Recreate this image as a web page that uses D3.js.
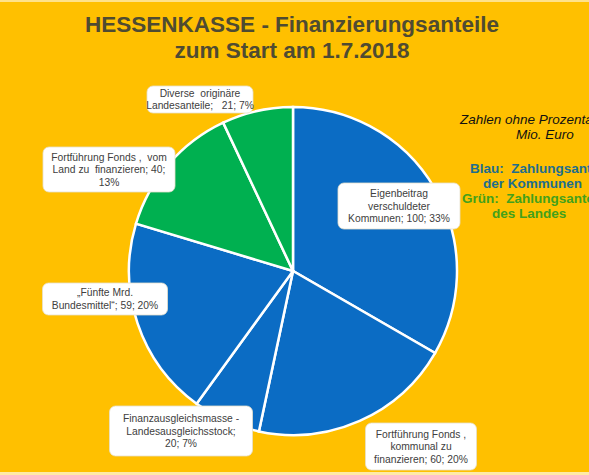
<!DOCTYPE html>
<html>
<head>
<meta charset="utf-8">
<script src="https://cdn.jsdelivr.net/npm/d3@7"></script>
<style>
  body { margin: 0; background: #ffc000; }
  svg { display: block; font-family: "Liberation Sans", Arial, sans-serif; }
  svg text { white-space: pre; }
</style>
</head>
<body>
<script>
// data: Mio. Euro, clockwise from 12 o'clock
var categories = ["Eigenbeitrag verschuldeter Kommunen", "Fortführung Fonds, kommunal zu finanzieren",
                  "Finanzausgleichsmasse - Landesausgleichsstock", "„Fünfte Mrd. Bundesmittel“",
                  "Fortführung Fonds, vom Land zu finanzieren", "Diverse originäre Landesanteile"];
var values = [100, 60, 20, 59, 40, 21];
var payer = ["Kommunen", "Kommunen", "Kommunen", "Kommunen", "Land", "Land"];
// label text as wrapped in the picture, {v} = value, {p} = percent
var labelLines = [
  ["Eigenbeitrag", "verschuldeter", "Kommunen; {v}; {p}%"],
  ["Fortführung Fonds ,", "kommunal zu", "finanzieren; {v}; {p}%"],
  ["Finanzausgleichsmasse -", "Landesausgleichsstock;", "{v}; {p}%"],
  ["„Fünfte Mrd.", "Bundesmittel“; {v}; {p}%"],
  ["Fortführung Fonds ,  vom", "Land zu  finanzieren; {v};", "{p}%"],
  ["Diverse  originäre", "Landesanteile;   {v}; {p}%"]
];
var titleLines = ["HESSENKASSE - Finanzierungsanteile", "zum Start am 1.7.2018"];

// label box layout: centre x, top y, width, height
var boxes = [[399, 183, 122, 46], [421, 423, 111, 47], [181, 406, 143, 50],
             [105, 283, 125, 32], [109, 147, 132, 45], [200, 86, 106, 27]];

var w = 589, h = 475;
var cx = 293, cy = 271, r = 164;

var svg = d3.select("body").append("svg")
    .attr("width", w)
    .attr("height", h);

svg.append("rect").attr("width", w).attr("height", h).attr("fill", "#ffc000");
svg.append("rect").attr("width", w).attr("height", 2).attr("fill", "#ffe28a");
svg.append("rect").attr("y", h - 3).attr("width", w).attr("height", 3).attr("fill", "#ffeaa8");

// title
svg.selectAll("text.title")
    .data(titleLines)
    .enter().append("text")
    .attr("class", "title")
    .attr("x", 292)
    .attr("y", function(d, i) { return 32 + i * 26; })
    .attr("text-anchor", "middle")
    .attr("font-size", 22.5)
    .attr("font-weight", "bold")
    .attr("fill", "#4f4b32")
    .text(function(d) { return d; });

var color = d3.scaleOrdinal().domain(["Kommunen", "Land"]).range(["#0b6cc4", "#00b050"]);

var total = d3.sum(values);
var pie = d3.pie().sort(null).value(function(d) { return d; });
var arc = d3.arc().innerRadius(0).outerRadius(r);

var g = svg.append("g").attr("transform", "translate(" + cx + "," + cy + ")");
g.selectAll("path")
    .data(pie(values))
    .enter().append("path")
    .attr("d", arc)
    .attr("fill", function(d, i) { return color(payer[i]); })
    .attr("stroke", "#ffffff")
    .attr("stroke-width", 2.5);

// data labels
var labels = svg.selectAll("g.lab")
    .data(values)
    .enter().append("g")
    .attr("class", "lab");

labels.append("rect")
    .attr("x", function(d, i) { return boxes[i][0] - boxes[i][2] / 2; })
    .attr("y", function(d, i) { return boxes[i][1]; })
    .attr("width", function(d, i) { return boxes[i][2]; })
    .attr("height", function(d, i) { return boxes[i][3]; })
    .attr("rx", 6)
    .attr("fill", "#ffffff")
    .attr("stroke", "#e6e0cc")
    .attr("stroke-width", 0.8);

labels.each(function(d, i) {
  var pct = Math.round(d / total * 100);
  var lines = labelLines[i];
  var b = boxes[i];
  var top = b[1] + b[3] / 2 - (lines.length - 1) * 12.5 / 2 + 3.7;
  d3.select(this).selectAll("text")
    .data(lines)
    .enter().append("text")
    .attr("x", b[0])
    .attr("y", function(t, j) { return top + j * 12.5; })
    .attr("text-anchor", "middle")
    .attr("font-size", 10.3)
    .attr("fill", "#404040")
    .text(function(t) { return t.replace("{v}", d).replace("{p}", pct); });
});

// note on the right (runs past the edge as in the original)
var notes = [
  {t: "Zahlen ohne Prozentangabe in", x: 460, y: 124, c: "#111111", it: true, b: false},
  {t: "Mio. Euro", x: 516, y: 139, c: "#111111", it: true, b: false},
  {t: "Blau:  Zahlungsanteile", x: 470, y: 173, c: "#1e6e8c", it: false, b: true},
  {t: "der Kommunen", x: 483, y: 188, c: "#1e6e8c", it: false, b: true},
  {t: "Grün:  Zahlungsanteile", x: 462, y: 203, c: "#43a01c", it: false, b: true},
  {t: "des Landes", x: 492, y: 218, c: "#43a01c", it: false, b: true}
];
svg.selectAll("text.note")
    .data(notes)
    .enter().append("text")
    .attr("class", "note")
    .attr("x", function(d) { return d.x; })
    .attr("y", function(d) { return d.y; })
    .attr("font-size", 13.5)
    .attr("font-style", function(d) { return d.it ? "italic" : "normal"; })
    .attr("font-weight", function(d) { return d.b ? "bold" : "normal"; })
    .attr("fill", function(d) { return d.c; })
    .text(function(d) { return d.t; });
</script>
</body>
</html>
